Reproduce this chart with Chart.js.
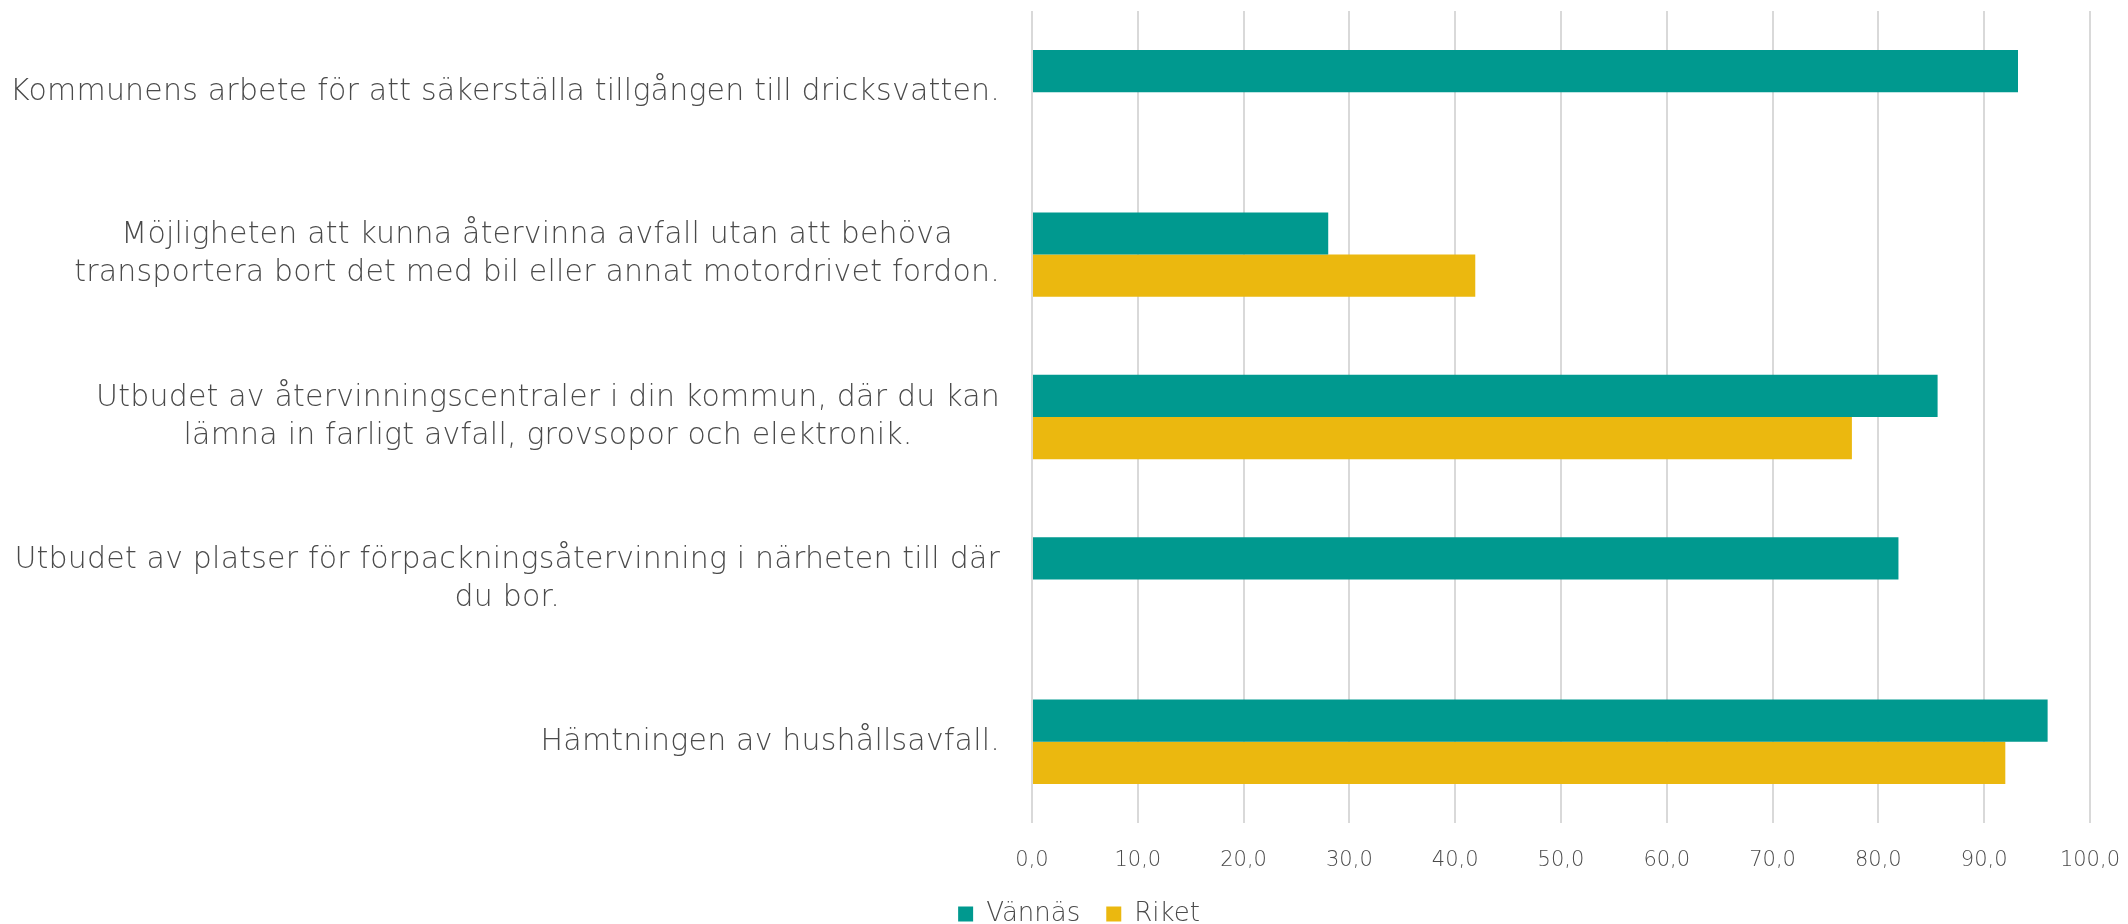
<!DOCTYPE html>
<html lang="sv">
<head>
  <meta charset="UTF-8">
  <title>Nöjdhet - Vännäs och Riket</title>
  <style>
    body { margin: 0; background: #ffffff; }
    .canvas_box { width: 2128px; height: 924px; }
  </style>
  <script src="https://cdn.jsdelivr.net/npm/chart.js@4.4.6/dist/chart.umd.min.js"></script>
</head>
<body>
<div class="canvas_box">
  <canvas id="myChart" width="2128" height="924"></canvas>
</div>
<script>
// kategorier, radbrutna som i originalet
var categories = [
  ['Kommunens arbete för att säkerställa tillgången till dricksvatten.'],
  ['Möjligheten att kunna återvinna avfall utan att behöva', 'transportera bort det med bil eller annat motordrivet fordon.'],
  ['Utbudet av återvinningscentraler i din kommun, där du kan', 'lämna in farligt avfall, grovsopor och elektronik.'],
  ['Utbudet av platser för förpackningsåtervinning i närheten till där', 'du bor.'],
  ['Hämtningen av hushållsavfall.']
];
var vannas = [93.2, 28.0, 85.6, 81.9, 96.0];
var riket = [null, 41.9, 77.5, null, 92.0];
var tickLabels = ['0,0', '10,0', '20,0', '30,0', '40,0', '50,0', '60,0', '70,0', '80,0', '90,0', '100,0'];

var textColor = '#4a4a4a';
var fontFamily = '"DejaVu Sans", sans-serif';

// y-etiketter: blocket högerställt, raderna centrerade inom blocket
var yLabels = {
  id: 'yLabels',
  afterDraw: function(chart) {
    var s = chart.scales.y, ctx = chart.ctx;
    ctx.save();
    ctx.font = '200 30px ' + fontFamily;
    ctx.letterSpacing = '0.2px';
    ctx.fillStyle = textColor;
    ctx.textAlign = 'center';
    ctx.textBaseline = 'middle';
    categories.forEach(function(lines, i) {
      var y = s.getPixelForValue(i);
      var w = Math.max.apply(null, lines.map(function(l) { return ctx.measureText(l).width; }));
      var cx = s.right - 32 - w / 2;
      lines.forEach(function(l, k) {
        ctx.fillText(l, cx, y + (k - (lines.length - 1) / 2) * 38);
      });
    });
    ctx.restore();
  }
};

var ctx = document.getElementById('myChart');
var myChart = new Chart(ctx, {
  type: 'bar',
  plugins: [yLabels],
  data: {
    labels: categories,
    datasets: [
      { label: 'Vännäs', data: vannas, backgroundColor: '#00998f' },
      { label: 'Riket', data: riket, backgroundColor: '#ebb80f' }
    ]
  },
  options: {
    indexAxis: 'y',
    responsive: false,
    devicePixelRatio: 1,
    animation: false,
    categoryPercentage: 0.52,
    barPercentage: 1.0,
    layout: {
      padding: { left: 68, right: 38, top: 11, bottom: -13 }
    },
    plugins: {
      tooltip: { enabled: false },
      legend: {
        position: 'bottom',
        labels: {
          boxWidth: 15,
          boxHeight: 15,
          padding: 26,
          color: textColor,
          font: { family: fontFamily, size: 26, weight: 200 }
        }
      }
    },
    scales: {
      x: {
        min: 0,
        max: 100,
        ticks: {
          stepSize: 10,
          padding: 8,
          color: textColor,
          font: { family: fontFamily, size: 21, weight: 200 },
          callback: function(value, index) { return tickLabels[index]; }
        },
        grid: { color: '#d9d9d9', lineWidth: 2, drawTicks: true, tickLength: 17, tickColor: 'rgba(0,0,0,0)' },
        border: { display: false },
        afterFit: function(scale) { scale.height = 52; }
      },
      y: {
        ticks: { display: false },
        grid: { display: false },
        border: { display: false },
        afterFit: function(scale) { scale.width = 1032 - 68; }
      }
    }
  }
});
</script>
</body>
</html>
